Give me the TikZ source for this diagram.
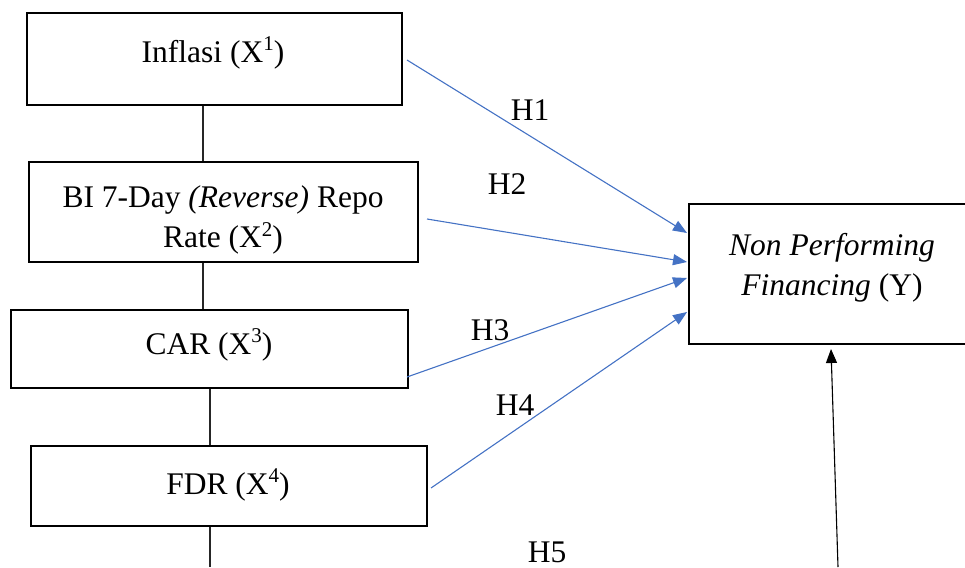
\documentclass[tikz,border=0pt]{standalone}
\usepackage{fontspec}
\setmainfont{Liberation Serif}
\usetikzlibrary{arrows.meta,fit}
\definecolor{linkblue}{HTML}{4472C4}
% index raised above the letter, two thirds of the text size
\newcommand{\idx}[1]{\raisebox{0.36em}{\fontsize{21}{21}\selectfont #1}}
\begin{document}
\begin{tikzpicture}[x=1pt,y=-1pt,
  box/.style={draw=black,line width=2pt,inner sep=0pt,rectangle},
  lbl/.style={font=\fontsize{31.5}{40}\selectfont,inner sep=0pt,align=center},
  joinline/.style={draw=black!85,line width=1.2pt},
  link/.style={draw=linkblue,line width=1.1pt,-{Triangle[length=14pt,width=11pt]}},
  effect/.style={draw=black,line width=1.1pt,-{Triangle[length=14pt,width=11pt]}}]
\useasboundingbox (0,0) rectangle (965,567);
\clip (0,0) rectangle (965,567);

% independent variables
\node[box,fit={(27,13) (402,105)}] (x1) {};
\node[box,fit={(29,162) (418,262)}] (x2) {};
\node[box,fit={(11,310) (408,388)}] (x3) {};
\node[box,fit={(31,446) (427,526)}] (x4) {};
% dependent variable (box runs past the right edge)
\node[box,fit={(689,204) (975,344)}] (yb) {};

\node[lbl] (t1) at (213,53) {Inflasi (X\idx{1})};
\node[lbl] (t2) at (223,220) {BI 7-Day \textit{(Reverse)} Repo\\Rate (X\idx{2})};
\node[lbl] (t3) at (209,345) {CAR (X\idx{3})};
\node[lbl] (t4) at (228,485) {FDR (X\idx{4})};
\node[lbl] (ty) at (832,268) {\textit{Non Performing}\\\textit{Financing} (Y)};

% hypothesis labels
\node[lbl] (h1) at (530,110) {H1};
\node[lbl] (h2) at (507,184) {H2};
\node[lbl] (h3) at (490,330) {H3};
\node[lbl] (h4) at (515,405) {H4};
\node[lbl] (h5) at (547,552) {H5};

% vertical joins between the boxes
\coordinate (ca) at (203,0);
\coordinate (cb) at (210,0);
\coordinate (bottom) at (210,567);
\draw[joinline] (x1.south -| ca) -- (x2.north -| ca);
\draw[joinline] (x2.south -| ca) -- (x3.north -| ca);
\draw[joinline] (x3.south -| cb) -- (x4.north -| cb);
\draw[joinline] (x4.south -| cb) -- (bottom);

% hypothesised effects
\draw[link] ([shift={(4,1)}]x1.east) -- ([shift={(-1,-41)}]yb.west);
\draw[link] ([shift={(8,7)}]x2.east) -- ([shift={(-1,-12)}]yb.west);
\draw[link] ([shift={(-2,28)}]x3.east) -- ([shift={(-1,4)}]yb.west);
\draw[link] ([shift={(3,2)}]x4.east) -- ([shift={(-1,38)}]yb.west);

\coordinate (h5foot) at (838,567);
\draw[effect] (h5foot) -- ([shift={(-1,4)}]yb.south);
\end{tikzpicture}
\end{document}
